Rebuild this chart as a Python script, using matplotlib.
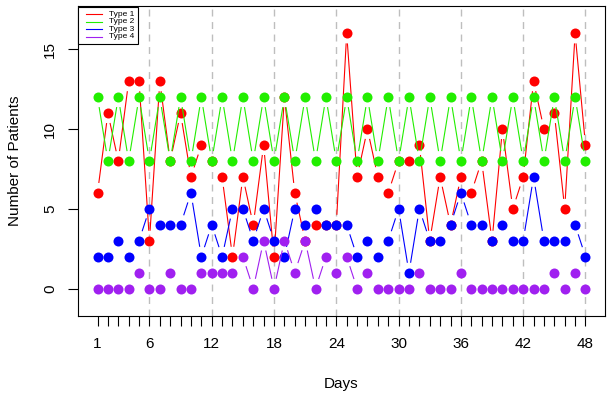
import numpy as np
import matplotlib
matplotlib.use("Agg")
import matplotlib.pyplot as plt
from matplotlib.collections import LineCollection
from matplotlib.lines import Line2D
from matplotlib.patches import Rectangle

plt.rcParams['font.family'] = ['Liberation Sans', 'DejaVu Sans']

days = list(range(1, 49))
type1 = [6, 11, 8, 13, 13, 3, 13, 8, 11, 7, 9, 8, 7, 2, 7, 4, 9, 2, 12, 6,
         3, 4, 4, 4, 16, 7, 10, 7, 6, 8, 8, 9, 3, 7, 4, 7, 6, 8, 3, 10,
         5, 7, 13, 10, 11, 5, 16, 9]
type2 = [12, 8, 12, 8, 12, 8, 12, 8, 12, 8, 12, 8, 12, 8, 12, 8, 12, 8, 12, 8,
         12, 8, 12, 8, 12, 8, 12, 8, 12, 8, 12, 8, 12, 8, 12, 8, 12, 8, 12, 8,
         12, 8, 12, 8, 12, 8, 12, 8]
type3 = [2, 2, 3, 2, 3, 5, 4, 4, 4, 6, 2, 4, 2, 5, 5, 3, 5, 3, 2, 5,
         4, 5, 4, 4, 4, 2, 3, 2, 3, 5, 1, 5, 3, 3, 4, 6, 4, 4, 3, 4,
         3, 3, 7, 3, 3, 3, 4, 2]
type4 = [0, 0, 0, 0, 1, 0, 0, 1, 0, 0, 1, 1, 1, 1, 2, 0, 3, 0, 3, 1,
         3, 0, 2, 1, 2, 0, 1, 0, 0, 0, 0, 1, 0, 0, 0, 1, 0, 0, 0, 0,
         0, 0, 0, 0, 1, 0, 1, 0]
series_names = ["Type 1", "Type 2", "Type 3", "Type 4"]
series_values = [type1, type2, type3, type4]
colors = ["#FF0000", "#22EE00", "#0000FF", "#A020F0"]
xtick_labels = [1, 6, 12, 18, 24, 30, 36, 42, 48]
vline_days = [6, 12, 18, 24, 30, 36, 42, 48]
yticks = [0, 5, 10, 15]

W, H = 614, 397
fig = plt.figure(figsize=(W / 100, H / 100), dpi=100)
L, R, T, B = 78, 605, 6, 316
ax = fig.add_axes([L / W, (H - B) / H, (R - L) / W, (B - T) / H])
ax.set_xlim(1 - 0.04 * 47, 48 + 0.04 * 47)
ax.set_ylim(-1 - 0.04 * 18, 17 + 0.04 * 18)

for d in vline_days:
    ax.axvline(d, color="#BEBEBE", lw=1.0, ls=(0, (5, 4)), zorder=1)

gap_px = 10.0
inv = ax.transData.inverted()
for i, (vals, col) in enumerate(zip(series_values, colors)):
    pts = ax.transData.transform(np.column_stack([days, vals]))
    segs = []
    for p0, p1 in zip(pts[:-1], pts[1:]):
        d = p1 - p0
        ln = np.hypot(d[0], d[1])
        f = gap_px / ln
        if f < 0.5:
            a = p0 + f * d
            b = p1 - f * d
            segs.append(inv.transform(np.array([a, b])))
    ax.add_collection(LineCollection(segs, colors=col, linewidths=0.8, zorder=2 + i))
    ax.plot(days, vals, 'o', color=col, ms=7.2, mew=0, zorder=2.5 + i)

ax.set_xticks(days)
ax.set_xticklabels([str(d) if d in xtick_labels else "" for d in days])
ax.set_yticks(yticks)
ax.set_yticklabels([str(v) for v in yticks], rotation=90, va="center")
ax.tick_params(axis="both", direction="out", length=7.2, width=0.8, pad=8,
               labelsize=11, colors="black")
for s in ax.spines.values():
    s.set_linewidth(0.8)
    s.set_color("black")

ax.set_xlabel("Days", fontsize=11)
ax.set_ylabel("Number of Patients", fontsize=11)
ax.xaxis.set_label_coords(0.5, (B - 384) / (B - T))
ax.xaxis.label.set_va("center")
ax.yaxis.set_label_coords((15 - L) / (R - L), 0.5)
ax.yaxis.label.set_va("center")
ax.yaxis.label.set_ha("center")

# legend (drawn in figure pixel units)
def fx(px):
    return px / W

def fy(py):
    return 1 - py / H

fig.add_artist(Rectangle((fx(78.3), fy(44)), fx(138.3) - fx(78.3), fy(6.7) - fy(44),
                         transform=fig.transFigure, fill=True, facecolor="white",
                         edgecolor="black", lw=0.8, zorder=10))
rows = [14.2, 21.8, 29.4, 37.0]
for name, col, ry in zip(series_names, colors, rows):
    fig.add_artist(Line2D([fx(86), fx(102)], [fy(ry), fy(ry)], color=col, lw=0.8,
                          transform=fig.transFigure, zorder=11))
    fig.text(fx(109), fy(ry), name, fontsize=6.0, va="center", ha="left", zorder=11)

fig.savefig("out.png", dpi=100)
